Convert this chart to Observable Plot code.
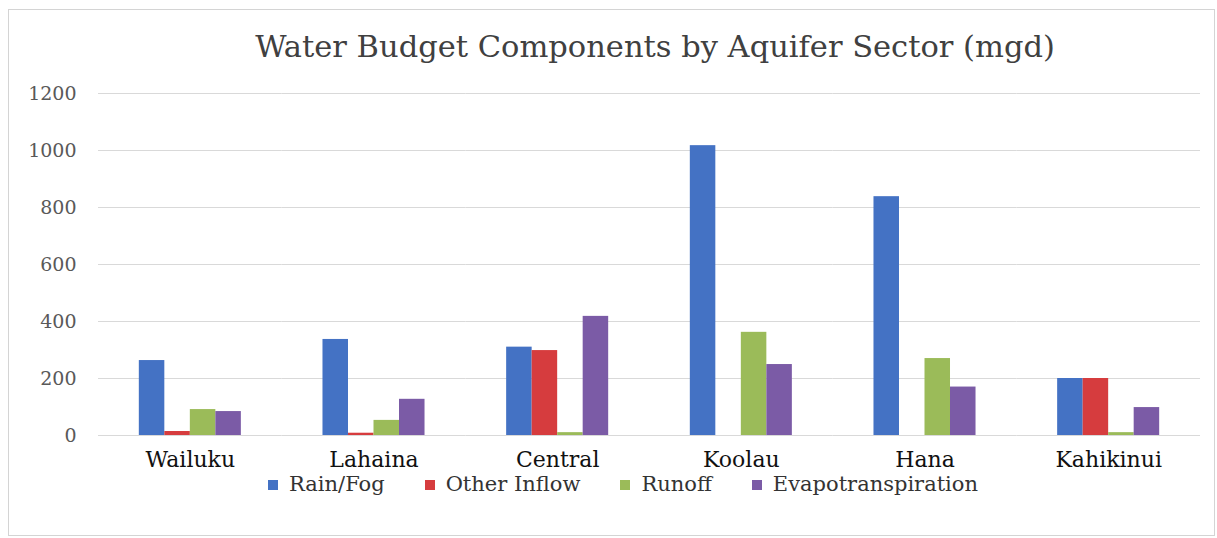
<!DOCTYPE html>
<html><head><meta charset="utf-8">
<script src="https://cdn.jsdelivr.net/npm/d3@7"></script>
<script src="https://cdn.jsdelivr.net/npm/@observablehq/plot@0.6"></script>
<style>
body{margin:0;background:#fff;width:1217px;height:538px;overflow:hidden;position:relative;font-family:"DejaVu Serif",serif}
#box{position:absolute;left:8px;top:9px;width:1207px;height:527px;border:1px solid #d4d4d4;box-sizing:border-box}
#title{position:absolute;left:0;width:1310px;top:29px;text-align:center;font-size:30.5px;color:#404040;white-space:nowrap;line-height:36px}
#chart{position:absolute;left:0;top:70px}
#legend{position:absolute;top:474px;left:0;width:1246px;display:flex;justify-content:center;gap:40px;font-size:21px;color:#333;line-height:21px}
#legend .it{display:flex;align-items:center;gap:11px;white-space:nowrap}
#legend .sw{width:10px;height:10px;display:inline-block}
svg [aria-label^="fx-axis"] text{font-size:22px;fill:#111}
svg [aria-label^="y-axis"] text{font-size:19px;fill:#595959}
</style></head>
<body>
<div id="box"></div>
<div id="title">Water Budget Components by Aquifer Sector (mgd)</div>
<div id="chart"></div>
<div id="legend"></div>
<script>
const sectors = ["Wailuku","Lahaina","Central","Koolau","Hana","Kahikinui"];
const series = ["Rain/Fog","Other Inflow","Runoff","Evapotranspiration"];
const rainFog = [263,337,310,1017,838,200];
const otherInflow = [14,8,298,0,0,200];
const runoff = [91,53,10,362,270,10];
const evapo = [84,127,418,249,170,98];
const colors = ["#4472c4","#d63c3e","#9bbb59","#7b5ba6"];
const yTicks = [0,200,400,600,800,1000,1200];

const seriesValues = [rainFog, otherInflow, runoff, evapo];
const rows = [];
sectors.forEach((s,i)=>{ seriesValues.forEach((arr,j)=> rows.push({sector:s, series:series[j], value:arr[i]})); });

const chart = Plot.plot({
  width:1217, height:412,
  marginLeft:98, marginRight:17, marginTop:23, marginBottom:47,
  facet:{data:rows, x:"sector", marginBottom:47},
  fx:{domain:sectors, padding:0, round:false, label:null, tickSize:0, tickPadding:16},
  x:{domain:series, axis:null, round:false, paddingInner:0, paddingOuter:1.6},
  y:{domain:[0,1200], ticks:yTicks, label:null, tickSize:0, tickPadding:22, tickFormat:d=>String(d)},
  color:{domain:series, range:colors},
  style:{fontFamily:"'DejaVu Serif', serif", background:"transparent", color:"#404040"},
  marks:[
    Plot.ruleY(yTicks, {stroke:"#d9d9d9", strokeWidth:1}),
    Plot.barY(rows, {x:"series", y:"value", fill:"series"})
  ]
});
document.getElementById("chart").appendChild(chart);

const leg = document.getElementById("legend");
series.forEach((s,i)=>{
  const it = document.createElement("div"); it.className="it";
  const sw = document.createElement("span"); sw.className="sw"; sw.style.background=colors[i];
  const tx = document.createElement("span"); tx.textContent=s;
  it.appendChild(sw); it.appendChild(tx); leg.appendChild(it);
});
</script>
</body></html>
